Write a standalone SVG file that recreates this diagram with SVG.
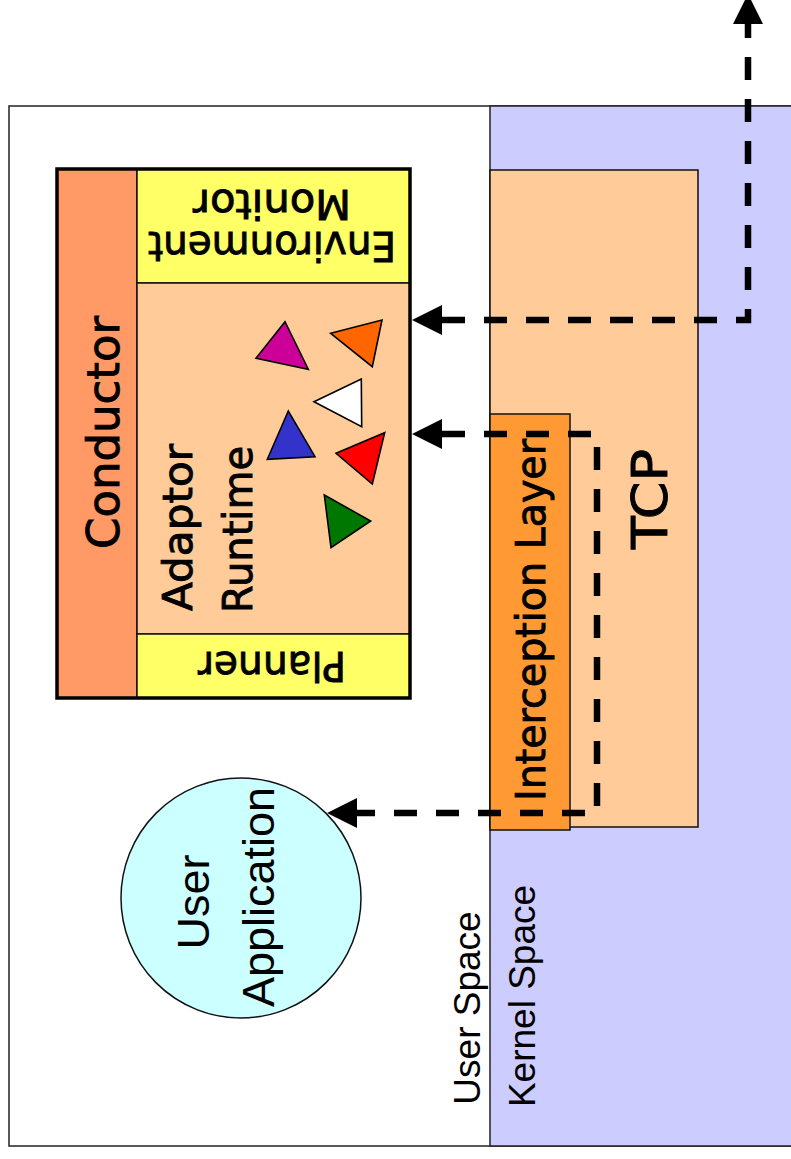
<svg xmlns="http://www.w3.org/2000/svg" width="791" height="1159" viewBox="0 0 791 1159">
  <style>
    .box { stroke: #111; stroke-width: 1.5; }
    .hand { font-family: "DejaVu Sans", "Liberation Sans", sans-serif; fill: #000; stroke: #000; stroke-width: 0.9; text-anchor: middle; }
    .plain { font-family: "Liberation Sans", Arial, sans-serif; fill: #000; text-anchor: middle; }
    .tri { stroke: #000; stroke-width: 1.6; stroke-linejoin: miter; }
    .flow { fill: none; stroke: #000; stroke-width: 6.5; stroke-dasharray: 23 19; }
  </style>
  <defs>
    <marker id="head" markerUnits="userSpaceOnUse" markerWidth="30" markerHeight="30" refX="0" refY="15" orient="auto-start-reverse" overflow="visible">
      <path d="M0,0 L30,15 L0,30 Z" fill="#000"/>
    </marker>
  </defs>

  <!-- User space area -->
  <g id="user-space">
    <rect x="9" y="106" width="800" height="1040" fill="#FFFFFF" stroke="#222" stroke-width="1.5"/>
    <text class="plain" font-size="37" transform="translate(480,1008) rotate(-90)">User Space</text>
  </g>

  <!-- Kernel space area -->
  <g id="kernel-space">
    <rect x="490" y="106" width="320" height="1040" fill="#CCCCFF" stroke="#222" stroke-width="1.5"/>
    <text class="plain" font-size="37" transform="translate(535,996) rotate(-90)">Kernel Space</text>
  </g>

  <!-- TCP stack -->
  <g id="tcp">
    <rect class="box" x="490" y="170" width="208" height="657" fill="#FFCC99"/>
    <text class="hand" font-size="50" textLength="100" lengthAdjust="spacingAndGlyphs" transform="translate(667,499) rotate(-90)">TCP</text>
  </g>

  <!-- Interception layer -->
  <g id="interception-layer">
    <rect class="box" x="490" y="414" width="80" height="416" fill="#FF9933"/>
    <text class="hand" font-size="41" textLength="362" lengthAdjust="spacingAndGlyphs" transform="translate(545,620) rotate(-90)">Interception Layer</text>
  </g>

  <!-- Conductor stack -->
  <g id="conductor">
    <rect x="57" y="169" width="80" height="529" fill="#FF9966" stroke="#111" stroke-width="1.5"/>
    <text class="hand" font-size="45" textLength="233" lengthAdjust="spacingAndGlyphs" transform="translate(119,432.5) rotate(-90)">Conductor</text>
  </g>

  <g id="environment-monitor">
    <rect class="box" x="137" y="169" width="273" height="114" fill="#FFFF66"/>
    <text class="hand" font-size="40" textLength="248" lengthAdjust="spacingAndGlyphs" transform="translate(272,232) rotate(180)">Environment</text>
    <text class="hand" font-size="40" textLength="158" lengthAdjust="spacingAndGlyphs" transform="translate(272,190) rotate(180)">Monitor</text>
  </g>

  <g id="adaptor-runtime">
    <rect class="box" x="137" y="283" width="273" height="351" fill="#FFCC99"/>
    <text class="hand" font-size="41" textLength="167" lengthAdjust="spacingAndGlyphs" transform="translate(192,527.5) rotate(-90)">Adaptor</text>
    <text class="hand" font-size="41" textLength="167" lengthAdjust="spacingAndGlyphs" transform="translate(252,529.5) rotate(-90)">Runtime</text>
    <polygon class="tri" fill="#CC0099" points="285,321.7 256,358.3 308.3,369.3"/>
    <polygon class="tri" fill="#FF6600" points="330.7,333.3 382,320 372.3,366.7"/>
    <polygon class="tri" fill="#FFFFFF" points="314,401.7 361.3,379 361.7,426.7"/>
    <polygon class="tri" fill="#3333CC" points="288.3,411 267.3,459.3 315,456.7"/>
    <polygon class="tri" fill="#FF0000" points="336,453.3 384.7,432.7 372.3,484"/>
    <polygon class="tri" fill="#007700" points="324.3,495 370.7,521 331,547.7"/>
  </g>

  <g id="planner">
    <rect class="box" x="137" y="634" width="273" height="64" fill="#FFFF66"/>
    <text class="hand" font-size="41" textLength="148" lengthAdjust="spacingAndGlyphs" transform="translate(272,652) rotate(180)">Planner</text>
  </g>

  <!-- heavy frame round the conductor stack -->
  <rect x="57" y="169" width="353" height="529" fill="none" stroke="#000" stroke-width="3.5"/>

  <!-- User application -->
  <g id="user-application">
    <circle cx="241" cy="898" r="120" fill="#CCFFFF" stroke="#111" stroke-width="1.5"/>
    <text class="plain" font-size="45" transform="translate(209,902) rotate(-90)">User</text>
    <text class="plain" font-size="45" transform="translate(274,897) rotate(-90)">Application</text>
  </g>

  <!-- Data / control flows -->
  <g id="connectors">
    <path class="flow" d="M442,320 H748 V24" marker-start="url(#head)" marker-end="url(#head)"/>
    <path class="flow" d="M442,434 H597 V813 H357" marker-start="url(#head)" marker-end="url(#head)"/>
  </g>
</svg>
